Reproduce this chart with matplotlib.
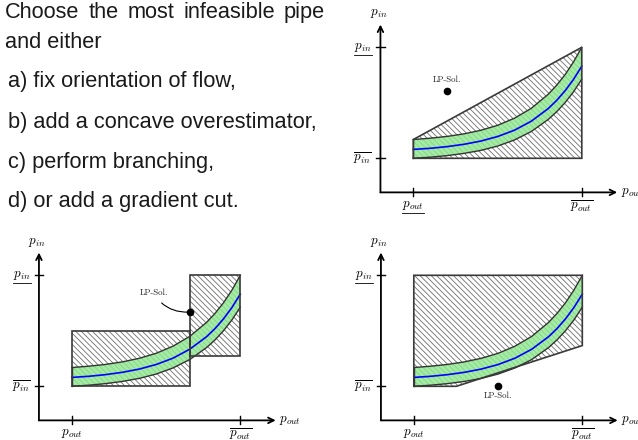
import matplotlib.pyplot as plt
import matplotlib.patches as mpatches
from matplotlib.lines import Line2D

plt.rcParams['mathtext.fontset'] = 'cm'
plt.rcParams['hatch.linewidth'] = 0.6

# pipe curve, both pressures scaled so that the bounds are 0 and 10
p_out = [0, 1, 2, 3, 4, 5, 6, 7, 8, 8.5, 9, 9.5, 10]
p_in_upper = [1.69, 1.81, 1.97, 2.20, 2.52, 2.97, 3.61, 4.50, 5.76, 6.57, 7.52, 8.66, 10.0]
p_in_mid = [0.80, 0.90, 1.05, 1.26, 1.55, 1.96, 2.53, 3.34, 4.47, 5.20, 6.07, 7.09, 8.30]
p_in_lower = [0.0, 0.10, 0.24, 0.44, 0.71, 1.10, 1.65, 2.41, 3.49, 4.18, 5.00, 5.97, 7.13]

# relaxations
region_over = [(0, 0), (10, 0), (10, 10), (0, 1.69)]
box_a = [(0, 0), (7, 0), (7, 5), (0, 5)]
box_b = [(7, 2.7), (10, 2.7), (10, 10), (7, 10)]
region_cut = [(0, 0), (2.53, 0), (10, 3.67), (10, 10), (0, 10)]

lp_over = (2.0, 6.1)
lp_branch = (7.0, 6.69)
lp_cut = (5.0, 0.0)

lines = ['Choose the most infeasible pipe', 'and either',
         'a) fix orientation of flow,', 'b) add a concave overestimator,',
         'c) perform branching,', 'd) or add a gradient cut.']
line_x = [5, 5, 8, 8, 8, 8]
line_base = [18.3, 48.3, 87.3, 128.3, 168.3, 207.3]

W, H = 638, 440
fig = plt.figure(figsize=(W / 100, H / 100), dpi=100)

txt_kw = dict(fontsize=15.7, family='Liberation Sans', color='#1a1a1a', va='baseline', ha='left')
# first line is justified in the original slide
first_words = [fig.text(line_x[0] / W, 1 - line_base[0] / H, w, **txt_kw)
               for w in lines[0].split()]
for s, x, y in zip(lines[1:], line_x[1:], line_base[1:]):
    fig.text(x / W, 1 - y / H, s, **txt_kw)

sx, sy = 16.85, 11.1
underlined = []


def panel(X0, Y0):
    left = X0 - 3 * sx
    top = Y0 - 14 * sy
    ax = fig.add_axes([left / W, 1 - (top + 19 * sy) / H, 16 * sx / W, 19 * sy / H])
    ax.set_xlim(-3, 13)
    ax.set_ylim(-5, 14)
    ax.set_axis_off()
    ox, oy = -1.95, -3.07
    ax.annotate('', xy=(12.1, oy), xytext=(ox, oy),
                arrowprops=dict(arrowstyle='->', lw=1.3, color='black',
                                shrinkA=0, shrinkB=0, mutation_scale=10),
                annotation_clip=False)
    ax.annotate('', xy=(ox, 12.05), xytext=(ox, oy),
                arrowprops=dict(arrowstyle='->', lw=1.3, color='black',
                                shrinkA=0, shrinkB=0, mutation_scale=10),
                annotation_clip=False)
    for xt in (0, 10):
        ax.plot([xt, xt], [oy - 0.35, oy + 0.35], color='black', lw=1.0, clip_on=False)
    for yt in (0, 10):
        ax.plot([ox - 0.25, ox + 0.25], [yt, yt], color='black', lw=1.0, clip_on=False)
    t = ax.text(0, -3.65, r'$p_{out}$', ha='center', va='top', fontsize=9.5, clip_on=False)
    underlined.append(t)
    ax.text(10, -3.6, r'$\overline{p_{out}}$', ha='center', va='top', fontsize=9.5, clip_on=False)
    t = ax.text(-2.45, 10, r'$p_{in}$', ha='right', va='center', fontsize=9.5, clip_on=False)
    underlined.append(t)
    ax.text(-2.45, 0, r'$\overline{p_{in}}$', ha='right', va='center', fontsize=9.5, clip_on=False)
    ax.text(-2.05, 13.0, r'$p_{in}$', ha='center', va='center', fontsize=9.5, clip_on=False)
    ax.text(12.3, oy, r'$p_{out}$', ha='left', va='center', fontsize=9.5, clip_on=False)
    return ax


def relax(ax, pts):
    ax.add_patch(mpatches.Polygon(pts, closed=True, facecolor='none', edgecolor='#6e6e6e',
                                  hatch='\\\\\\\\\\\\', lw=0, clip_on=False))


def outline(ax, pts):
    ax.add_patch(mpatches.Polygon(pts, closed=True, facecolor='none', edgecolor='#3a3a3a',
                                  lw=1.2, clip_on=False, zorder=5))


def band(ax):
    ax.fill_between(p_out, p_in_lower, p_in_upper, facecolor='#8fe88f', alpha=0.82,
                    edgecolor='none', zorder=3)
    ax.plot(p_out, p_in_upper, color='#333333', lw=1.0, zorder=4)
    ax.plot(p_out, p_in_lower, color='#333333', lw=1.0, zorder=4)
    ax.plot([0, 0], [p_in_lower[0], p_in_upper[0]], color='#333333', lw=1.0, zorder=4)
    ax.plot(p_out, p_in_mid, color='#0000ff', lw=1.2, zorder=4)


# a) / b) concave overestimator
ax1 = panel(413.3, 158.3)
relax(ax1, region_over)
band(ax1)
outline(ax1, region_over)
ax1.plot(*lp_over, 'o', color='black', ms=4.5, zorder=6)
ax1.text(lp_over[0], lp_over[1] + 0.6, 'LP-Sol.', family='cmr10', fontsize=6.3,
         ha='center', va='bottom', color='#222222')

# c) branching
ax2 = panel(71.8, 386.3)
relax(ax2, box_a)
relax(ax2, box_b)
band(ax2)
outline(ax2, box_a)
outline(ax2, box_b)
ax2.plot(*lp_branch, 'o', color='black', ms=4.5, zorder=6)
ax2.annotate('LP-Sol.', xy=lp_branch, xytext=(4.85, 8.4), family='cmr10', fontsize=6.3,
             ha='center', va='center', color='#222222',
             arrowprops=dict(arrowstyle='-', connectionstyle='arc3,rad=0.3', lw=0.8,
                             color='black', shrinkA=3, shrinkB=1))

# d) gradient cut
ax3 = panel(413.8, 386.3)
relax(ax3, region_cut)
band(ax3)
outline(ax3, region_cut)
ax3.plot(*lp_cut, 'o', color='black', ms=4.5, zorder=6)
ax3.text(lp_cut[0], lp_cut[1] - 0.45, 'LP-Sol.', family='cmr10', fontsize=6.3,
         ha='center', va='top', color='#222222')

fig.canvas.draw()
r = fig.canvas.get_renderer()

# spread the words of the first line between x=5 and x=325
widths = [t.get_window_extent(r).width for t in first_words]
gap = (325 - 5 - sum(widths)) / (len(widths) - 1)
xpos = 5
for t, w in zip(first_words, widths):
    t.set_x(xpos / W)
    xpos += w + gap

for t in underlined:
    bb = t.get_window_extent(r)
    yl = bb.y0 - 1.0
    fig.add_artist(Line2D([bb.x0 / W, bb.x1 / W], [yl / H, yl / H],
                          transform=fig.transFigure, color='black', lw=0.6))

fig.savefig('out.png', dpi=100)
